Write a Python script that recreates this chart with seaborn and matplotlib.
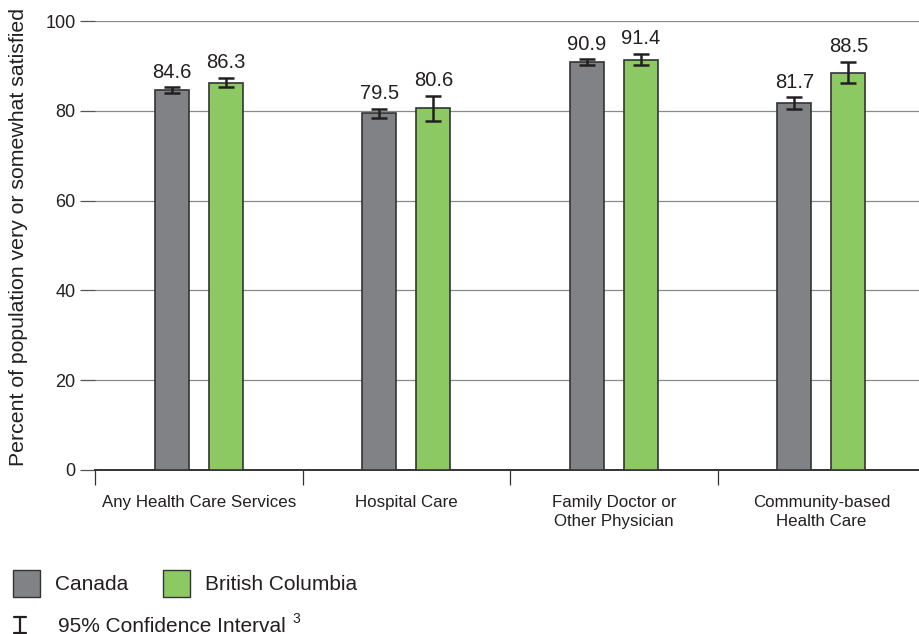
import matplotlib
matplotlib.use("Agg")
import matplotlib.pyplot as plt
from matplotlib.patches import Rectangle
from matplotlib.lines import Line2D
import pandas as pd
import seaborn as sns

# Data
categories = ["Any Health Care Services", "Hospital Care",
              "Family Doctor or\nOther Physician", "Community-based\nHealth Care"]
series = ["Canada", "British Columbia"]
canada = [84.6, 79.5, 90.9, 81.7]
bc = [86.3, 80.6, 91.4, 88.5]
canada_lo = [84.0, 78.5, 90.3, 80.4]
canada_hi = [85.2, 80.5, 91.5, 83.0]
bc_lo = [85.3, 77.8, 90.1, 86.1]
bc_hi = [87.3, 83.4, 92.7, 90.9]

colors = ["#808285", "#8cc963"]
text_col = "#231f20"

sns.set_style("white")
plt.rcParams['font.family'] = ['Liberation Sans', 'DejaVu Sans']

df = pd.DataFrame({
    "category": categories * 2,
    "series": [series[0]] * 4 + [series[1]] * 4,
    "value": canada + bc,
})

fig = plt.figure(figsize=(9.19, 6.34), dpi=100)
ax = fig.add_axes([95 / 919, 1 - 470 / 634, 824 / 919, 449 / 634])

sns.barplot(data=df, x="category", y="value", hue="series", order=categories,
            hue_order=series, palette=colors, saturation=1, width=0.52, gap=0.37,
            edgecolor="#333333", linewidth=1.2, legend=False, ax=ax, zorder=3)

# confidence intervals + value labels
for cont, vals, lo, hi in zip(ax.containers, [canada, bc], [canada_lo, bc_lo], [canada_hi, bc_hi]):
    for bar, v, l, h in zip(cont, vals, lo, hi):
        xc = bar.get_x() + bar.get_width() / 2
        ax.errorbar(xc, v, yerr=[[v - l], [h - v]], fmt="none", ecolor="#231f20",
                    elinewidth=1.8, capsize=6, capthick=1.8, zorder=4)
        ax.annotate(f"{v:.1f}", (xc, h), xytext=(0, 4), textcoords="offset points",
                    ha="center", va="bottom", fontsize=14.5, color=text_col)

ax.set_ylim(0, 100)
ax.set_xlim(-0.5, 3.47)
ax.set_yticks([0, 20, 40, 60, 80, 100])
ax.yaxis.grid(True, color="#8a8a8a", linewidth=0.9, zorder=0)
ax.set_axisbelow(True)
ax.tick_params(axis="y", left=True, length=11, color="#555555", width=0.9,
               labelsize=13, labelcolor=text_col, pad=3)

ax.set_xticks(range(4))
ax.set_xticklabels(categories, fontsize=12.2, color=text_col, linespacing=1.35)
ax.set_xticks([-0.5, 0.5, 1.5, 2.5], minor=True)
ax.tick_params(axis="x", which="major", length=0, pad=18)
ax.tick_params(axis="x", which="minor", bottom=True, length=11, width=0.9, color="#333333")

for s in ["top", "right", "left"]:
    ax.spines[s].set_visible(False)
ax.spines["bottom"].set_color("#333333")
ax.spines["bottom"].set_linewidth(1.4)

ax.set_xlabel("")
ax.set_ylabel("Percent of population very or somewhat satisfied", fontsize=15.3,
              color=text_col)
ax.yaxis.set_label_coords(-67 / 824, 0.518)

# legend drawn in figure space
for x0, col, lab, tx in [(13, colors[0], series[0], 55), (163, colors[1], series[1], 205)]:
    fig.add_artist(Rectangle((x0 / 919, 1 - 597 / 634), 27 / 919, 27 / 634,
                             transform=fig.transFigure, facecolor=col,
                             edgecolor="#333333", linewidth=1.0))
    fig.text(tx / 919, 1 - 584 / 634, lab, fontsize=15, va="center", color=text_col)

fig.add_artist(Line2D([20 / 919, 20 / 919], [1 - 617 / 634, 1 - 633 / 634],
                      transform=fig.transFigure, color=text_col, linewidth=1.6))
fig.add_artist(Line2D([14 / 919, 26 / 919], [1 - 617 / 634, 1 - 617 / 634],
                      transform=fig.transFigure, color=text_col, linewidth=1.6))
fig.add_artist(Line2D([14 / 919, 26 / 919], [1 - 633 / 634, 1 - 633 / 634],
                      transform=fig.transFigure, color=text_col, linewidth=1.6))
fig.text(58 / 919, 1 - 626 / 634, "95% Confidence Interval", fontsize=15,
         va="center", color=text_col)
fig.text(292 / 919, 1 - 619 / 634, "3", fontsize=10, va="center", color=text_col)

fig.savefig("out.png", dpi=100, facecolor="white")
